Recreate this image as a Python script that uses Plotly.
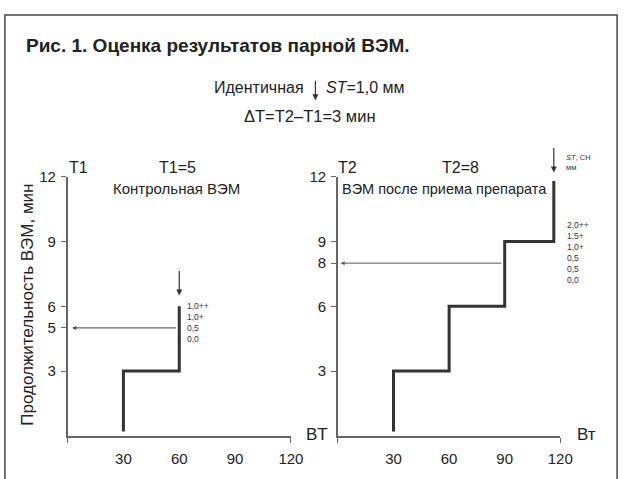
import plotly.graph_objects as go

W, H = 635, 479
FONT = "Liberation Sans, Arial, sans-serif"
TXT = "#222222"

# data
x_ctrl = [30, 30, 60, 60]
y_ctrl = [0.2, 3, 3, 6]
x_drug = [30, 30, 60, 60, 90, 90, 116.5, 116.5]
y_drug = [0.2, 3, 3, 6, 6, 9, 9, 11.8]
T1 = 5
T2 = 8
ctrl_st = ["1,0++", "1,0+", "0,5", "0,0"]
drug_st = ["2,0++", "1,5+", "1,0+", "0,5", "0,5", "0,0"]
x_ticks = [30, 60, 90, 120]
y_ticks_ctrl = [3, 5, 6, 9, 12]
y_ticks_drug = [3, 6, 8, 9, 12]
XMAX, YMAX = 120, 12

def px(x):
    return x / W

def py(y):
    return 1 - y / H

fig = go.Figure()
fig.add_trace(go.Scatter(x=x_ctrl, y=y_ctrl, mode="lines", xaxis="x", yaxis="y",
                         line=dict(color="#333333", width=3), showlegend=False, hoverinfo="skip"))
fig.add_trace(go.Scatter(x=x_drug, y=y_drug, mode="lines", xaxis="x2", yaxis="y2",
                         line=dict(color="#333333", width=3), showlegend=False, hoverinfo="skip"))

ydom = [py(435), py(171)]
axcommon = dict(showgrid=False, zeroline=False, showline=True, linecolor="#666666", linewidth=1.5,
                tickfont=dict(family=FONT, size=15, color=TXT), fixedrange=True)

fig.update_layout(
    width=W, height=H, margin=dict(l=0, r=0, t=0, b=0),
    paper_bgcolor="white", plot_bgcolor="white",
    xaxis=dict(domain=[px(69), px(297)], range=[0, XMAX], anchor="y", tickvals=x_ticks, ticks="",
               ticklabelstandoff=8,
               minor=dict(tickvals=[0, XMAX], ticks="outside", ticklen=5, tickcolor="#666666"), **axcommon),
    yaxis=dict(domain=ydom, range=[0, YMAX], anchor="x", tickvals=y_ticks_ctrl, ticks="outside",
               ticklen=5, tickcolor="#666666", ticklabelstandoff=2, **axcommon),
    xaxis2=dict(domain=[px(345), px(572)], range=[0, XMAX], anchor="y2", tickvals=x_ticks, ticks="",
                ticklabelstandoff=8,
                minor=dict(tickvals=[0, XMAX], ticks="outside", ticklen=5, tickcolor="#666666"), **axcommon),
    yaxis2=dict(domain=ydom, range=[0, YMAX], anchor="x2", tickvals=y_ticks_drug, ticks="outside",
                ticklen=5, tickcolor="#666666", ticklabelstandoff=2, **axcommon),
)

ann = []
def txt(x, y, s, size=14, xanchor="center", yanchor="middle", bold=False, **kw):
    if bold:
        s = "<b>" + s + "</b>"
    ann.append(dict(x=px(x), y=py(y), xref="paper", yref="paper", text=s, showarrow=False,
                    xanchor=xanchor, yanchor=yanchor,
                    font=dict(family=FONT, size=size, color=TXT), **kw))

txt(25, 37, "Рис. 1. Оценка результатов парной ВЭМ.", size=19, xanchor="left", bold=True)
txt(312, 80, "Идентичная", size=16, xanchor="right")
txt(331, 80, "<i>ST</i>=1,0 мм", size=16, xanchor="left")
txt(316, 109, "ΔT=T2–T1=3 мин", size=16.5)
# small arrow in subtitle
ann.append(dict(x=px(322), y=py(93), xref="paper", yref="paper",
                axref="pixel", ayref="pixel", ax=0, ay=-21, showarrow=True, arrowhead=2, arrowsize=1,
                arrowwidth=1.2, arrowcolor="#333333", text=""))

txt(68, 162, "T1", size=16, xanchor="left")
txt(181, 162, "T1=%d" % T1, size=16)
txt(180, 183, "Контрольная ВЭМ", size=15)
txt(343, 162, "T2", size=16, xanchor="left")
txt(470, 162, "T2=%d" % T2, size=16)
txt(454, 183, "ВЭМ после приема препарата", size=14.5)
txt(310, 434, "BT", size=17, xanchor="left")
txt(587, 434, "Вт", size=17, xanchor="left")
ann.append(dict(x=px(28), y=py(301), xref="paper", yref="paper", text="Продолжительность ВЭМ, мин",
                showarrow=False, textangle=-90, xanchor="center", yanchor="middle",
                font=dict(family=FONT, size=17, color=TXT)))

# ST labels
ann.append(dict(x=63 / XMAX, y=6.35 / YMAX, xref="x domain", yref="y domain", text="<br>".join(ctrl_st),
                showarrow=False, xanchor="left", yanchor="top", align="left",
                font=dict(family=FONT, size=8.5, color="#333333")))
ann.append(dict(x=122.5 / XMAX, y=10.1 / YMAX, xref="x2 domain", yref="y2 domain", text="<br>".join(drug_st),
                showarrow=False, xanchor="left", yanchor="top", align="left",
                font=dict(family=FONT, size=8.5, color="#333333")))
ann.append(dict(x=px(576), y=py(145), xref="paper", yref="paper", text="<i>ST</i>, СН<br>мм",
                showarrow=False, xanchor="left", yanchor="top", align="left",
                font=dict(family=FONT, size=7.5, color="#333333")))

# arrows
ann.append(dict(x=2.5, y=T1, ax=x_ctrl[-1] - 1, ay=T1, xref="x", yref="y", axref="x", ayref="y",
                showarrow=True, arrowhead=2, arrowsize=0.8, arrowwidth=1, arrowcolor="#444444", text=""))
ann.append(dict(x=1.5, y=T2, ax=x_drug[4] - 1, ay=T2, xref="x2", yref="y2", axref="x2", ayref="y2",
                showarrow=True, arrowhead=2, arrowsize=0.8, arrowwidth=1, arrowcolor="#555555", text=""))
ann.append(dict(x=60, y=6.5, ax=60, ay=7.7, xref="x", yref="y", axref="x", ayref="y",
                showarrow=True, arrowhead=2, arrowsize=1, arrowwidth=1.2, arrowcolor="#333333", text=""))
ann.append(dict(x=x_drug[-1] / XMAX, y=12.2 / YMAX, ax=x_drug[-1] / XMAX, ay=13.4 / YMAX,
                xref="x2 domain", yref="y2 domain", axref="x2 domain", ayref="y2 domain",
                showarrow=True, arrowhead=2, arrowsize=1, arrowwidth=1.2, arrowcolor="#333333", text=""))

fig.update_layout(annotations=ann)
fig.add_shape(type="rect", xref="paper", yref="paper", x0=px(5), x1=px(630), y0=-0.05, y1=py(6),
              line=dict(color="#444444", width=1.5), layer="above")

fig.write_html("out.html")
